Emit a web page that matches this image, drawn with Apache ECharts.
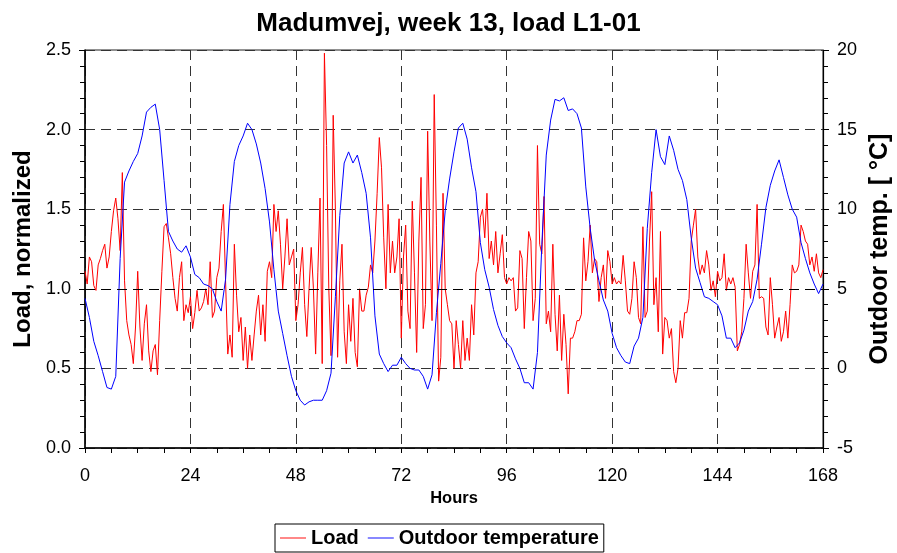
<!DOCTYPE html>
<html>
<head>
<meta charset="utf-8">
<script src="https://cdn.jsdelivr.net/npm/echarts@6/dist/echarts.min.js"></script>
<style>
html,body{margin:0;padding:0;background:#fff;}
#chart{width:897px;height:553px;}
</style>
</head>
<body>
<div id="chart"></div>
<script>
// Load (normalized), one value every half hour from hour 0 to hour 168
const loadStepHours = 0.5;
const loadValues = [
1.11,1.03,1.20,1.17,1.02,0.99,1.15,1.19,1.24,1.28,
1.13,1.20,1.36,1.49,1.57,1.44,1.24,1.73,1.05,0.80,
0.71,0.65,0.53,0.76,1.11,0.76,0.55,0.78,0.90,0.61,
0.48,0.61,0.65,0.46,0.80,1.11,1.39,1.41,1.32,1.22,
1.07,0.94,0.86,1.07,1.17,0.80,0.90,0.85,0.95,0.75,
0.85,0.99,0.86,0.88,0.92,1.00,0.90,1.17,0.82,0.86,
1.07,1.13,1.36,1.53,1.05,0.59,0.71,0.57,1.28,0.96,
0.73,0.82,0.55,0.76,0.50,0.71,0.55,0.71,0.86,0.96,
0.71,0.90,0.67,1.11,1.17,1.07,1.53,1.36,1.49,1.28,
1.00,1.20,1.44,1.15,1.20,1.25,0.80,0.90,1.10,1.26,
0.90,0.70,1.00,1.26,1.00,0.59,1.10,1.57,0.53,2.48,
1.90,1.00,0.58,2.09,1.50,0.57,1.05,1.28,0.73,0.53,
0.90,0.67,0.94,0.60,0.51,1.00,0.86,0.86,0.96,1.01,
1.15,1.10,1.30,1.60,1.95,1.76,1.32,1.00,1.53,1.10,
1.30,1.10,1.20,1.44,0.69,1.20,1.40,0.86,0.75,1.55,
1.10,0.60,1.30,1.70,0.75,0.90,1.99,1.30,0.80,2.22,
1.40,0.42,0.57,1.60,1.00,0.90,0.80,0.78,0.50,0.80,
0.65,0.50,0.80,0.55,0.69,0.55,0.90,0.71,1.10,1.17,
1.45,1.50,1.32,1.60,1.19,1.30,1.15,1.36,1.10,1.22,
1.34,1.07,1.03,1.07,1.05,1.07,0.86,0.88,1.24,1.19,
0.75,1.07,1.36,1.30,0.80,0.94,1.90,1.28,1.22,1.58,
0.78,0.86,0.73,1.28,0.84,0.61,0.96,0.55,0.84,0.65,
0.34,0.69,0.69,0.73,0.80,0.80,0.84,1.32,1.05,1.17,
1.40,1.10,1.19,1.17,0.92,1.07,1.15,0.94,1.24,1.17,
1.03,1.07,1.03,1.05,1.03,1.21,1.05,0.86,0.84,0.94,
1.17,1.07,0.82,0.78,1.39,0.82,0.86,1.30,1.61,0.90,
1.07,0.73,1.36,0.59,0.82,0.80,0.69,0.75,0.48,0.41,
0.50,0.80,0.69,0.85,0.85,0.94,1.30,1.40,1.50,1.20,
1.09,1.15,1.10,1.24,1.15,0.99,1.05,0.95,1.11,1.05,
1.07,1.22,0.99,1.07,1.03,1.07,1.01,0.61,0.65,0.73,
0.94,1.28,1.10,0.94,1.11,1.15,1.53,0.94,0.95,0.94,
0.76,0.71,1.07,0.90,0.69,0.76,0.82,0.67,0.73,0.86,
0.69,0.90,1.15,1.10,1.11,1.15,1.40,1.36,1.30,1.28,
1.15,1.20,1.11,1.22,1.10,1.07,1.12
];

// Outdoor temperature [°C], one value per hour from hour 0 to hour 168
const tempStepHours = 1;
const tempValues = [
4.4,3.2,1.7,0.8,-0.2,-1.2,-1.3,-0.5,6.9,11.7,
12.4,13.0,13.5,14.6,16.1,16.4,16.6,15.0,11.8,8.6,
8.0,7.5,7.3,7.7,7.0,5.9,5.7,5.3,5.2,5.0,
4.2,3.6,5.6,10.3,13.0,14.0,14.6,15.4,15.0,14.1,
12.9,11.3,9.2,6.2,3.6,2.2,0.8,-0.5,-1.4,-2.0,
-2.3,-2.1,-2.0,-2.0,-2.0,-1.4,-0.3,4.5,9.6,12.9,
13.6,12.9,13.4,12.3,11.0,8.2,3.3,0.9,0.3,-0.2,
0.2,0.2,0.7,0.3,0.0,-0.1,-0.1,-0.5,-1.3,-0.4,
3.5,6.6,9.9,11.9,13.6,15.1,15.4,14.4,12.6,11.1,
7.9,6.2,5.1,3.7,2.7,2.0,1.6,1.3,0.6,0.0,
-0.9,-0.9,-1.3,1.0,7.8,13.4,15.6,16.9,16.8,17.0,
16.2,16.3,16.0,15.1,11.4,8.8,6.8,5.5,4.3,3.6,
2.2,1.3,0.8,0.4,0.3,1.4,1.9,3.2,8.8,12.3,
15.0,13.3,12.8,14.6,13.7,12.5,11.8,10.6,8.2,6.3,
5.4,4.5,4.4,4.2,4.0,3.3,1.9,1.9,1.3,1.6,
2.4,3.6,4.2,5.6,7.8,10.1,11.5,12.4,13.1,12.0,
10.9,10.0,9.5,7.9,6.9,6.0,5.3,4.7,5.3
];

const xTicks = { min: 0, max: 168, interval: 24 };
const leftTicks = { min: 0, max: 2.5, interval: 0.5 };
const rightTicks = { min: -5, max: 20, interval: 5 };
const seriesNames = ['Load', 'Outdoor temperature'];

const FONT = '"Liberation Sans", Arial, sans-serif';
const loadData = loadValues.map((v, i) => [i * loadStepHours, v]);
const tempData = tempValues.map((v, i) => [i * tempStepHours, v]);

const chart = echarts.init(document.getElementById('chart'), null, { renderer: 'canvas' });
chart.setOption({
  animation: false,
  backgroundColor: '#ffffff',
  title: {
    text: 'Madumvej, week 13, load L1-01',
    left: 'center',
    top: 6,
    textStyle: { fontFamily: FONT, fontSize: 26, fontWeight: 'bold', color: '#000' }
  },
  legend: {
    bottom: 1,
    left: 275,
    data: [
      { name: seriesNames[0], icon: 'rect', itemStyle: { color: '#ff6060' } },
      { name: seriesNames[1], icon: 'rect', itemStyle: { color: '#6060ff' } }
    ],
    borderColor: '#000',
    borderWidth: 1,
    padding: [4, 5, 4, 5],
    itemGap: 9,
    itemWidth: 26,
    itemHeight: 1.5,
    textStyle: { fontFamily: FONT, fontSize: 20, fontWeight: 'bold', color: '#000' }
  },
  grid: {
    left: 85, right: 74, top: 50, bottom: 105,
    outerBoundsMode: 'none',
    containLabel: false,
    show: true, borderColor: '#222', borderWidth: 1, backgroundColor: 'transparent'
  },
  xAxis: {
    type: 'value',
    min: xTicks.min, max: xTicks.max, interval: xTicks.interval,
    name: 'Hours',
    nameLocation: 'middle',
    nameGap: 41,
    nameTextStyle: { fontFamily: FONT, fontSize: 16.5, fontWeight: 'bold', color: '#000' },
    axisLine: { show: true, onZero: false, lineStyle: { color: '#000', width: 1.5 } },
    axisTick: { show: true, inside: false, length: 5, lineStyle: { color: '#000' } },
    minorTick: { show: true, splitNumber: 4, length: 5, lineStyle: { color: '#000' } },
    axisLabel: { fontFamily: FONT, fontSize: 18, color: '#000', margin: 19 },
    splitLine: { show: true, lineStyle: { color: '#333', type: [10, 6], width: 1 } },
    minorSplitLine: { show: false }
  },
  yAxis: [
    {
      type: 'value',
      position: 'left',
      min: leftTicks.min, max: leftTicks.max, interval: leftTicks.interval,
      name: 'Load, normalized',
      nameLocation: 'middle',
      nameRotate: 90,
      nameGap: 50,
      nameTextStyle: { fontFamily: FONT, fontSize: 24, fontWeight: 'bold', color: '#000' },
      axisLine: { show: true, onZero: false, lineStyle: { color: '#000', width: 1.5 } },
      axisTick: { show: true, inside: false, length: 6, lineStyle: { color: '#000' } },
      minorTick: { show: true, splitNumber: 5, length: 5, lineStyle: { color: '#000' } },
      axisLabel: { fontFamily: FONT, fontSize: 18, color: '#000', margin: 14,
        formatter: v => v.toFixed(1) },
      splitLine: { show: true, lineStyle: { color: '#333', type: [10, 6], width: 1 } }
    },
    {
      type: 'value',
      position: 'right',
      min: rightTicks.min, max: rightTicks.max, interval: rightTicks.interval,
      name: 'Outdoor temp. [ °C]',
      nameLocation: 'middle',
      nameRotate: 90,
      nameGap: 44,
      nameTextStyle: { fontFamily: FONT, fontSize: 25, fontWeight: 'bold', color: '#000' },
      axisLine: { show: true, onZero: false, lineStyle: { color: '#000', width: 1.2 } },
      axisTick: { show: true, inside: false, length: 6, lineStyle: { color: '#000' } },
      minorTick: { show: true, splitNumber: 5, length: 5, lineStyle: { color: '#000' } },
      axisLabel: { fontFamily: FONT, fontSize: 18, color: '#000', margin: 14 },
      splitLine: { show: false }
    }
  ],
  series: [
    {
      name: seriesNames[0],
      type: 'line',
      yAxisIndex: 0,
      data: loadData,
      symbol: 'none',
      showSymbol: false,
      lineStyle: { color: '#ff0000', width: 1 },
      itemStyle: { color: '#ff0000' },
      markLine: {
        silent: true,
        symbol: 'none',
        label: { show: false },
        lineStyle: { color: '#000', type: [10, 6], width: 1 },
        data: [{ yAxis: 1.0 }]
      },
      z: 2
    },
    {
      name: seriesNames[1],
      type: 'line',
      yAxisIndex: 1,
      data: tempData,
      symbol: 'none',
      showSymbol: false,
      lineStyle: { color: '#0000ff', width: 1 },
      itemStyle: { color: '#0000ff' },
      z: 3
    }
  ]
});
</script>
</body>
</html>
